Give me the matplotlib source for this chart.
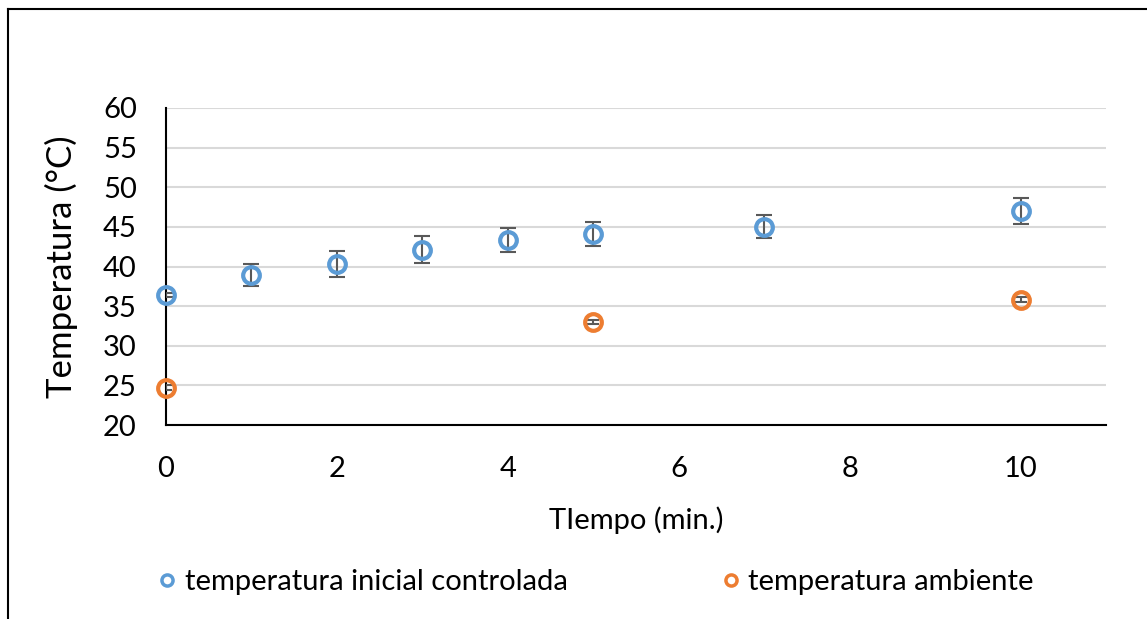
import matplotlib.pyplot as plt
from matplotlib.lines import Line2D

plt.rcParams['font.family'] = ['Lato', 'DejaVu Sans']

# datos
tiempo_ctrl = [0, 1, 2, 3, 4, 5, 7, 10]
temp_ctrl = [36.4, 38.9, 40.3, 42.1, 43.3, 44.1, 45.0, 47.0]
err_ctrl = [0.3, 1.4, 1.6, 1.7, 1.5, 1.5, 1.45, 1.7]

tiempo_amb = [0, 5, 10]
temp_amb = [24.7, 33.0, 35.8]
err_amb = [0.3, 0.3, 0.3]

yticks = [20, 25, 30, 35, 40, 45, 50, 55, 60]
xticks = [0, 2, 4, 6, 8, 10]

azul = '#5b9bd5'
naranja = '#ed7d31'
gris = '#595959'

fig = plt.figure(figsize=(11.47, 6.19), dpi=100)
ax = fig.add_axes([166 / 1147, 1 - 425 / 619, 940 / 1147, 317 / 619])

ax.errorbar(tiempo_ctrl, temp_ctrl, yerr=err_ctrl, fmt='none', ecolor=gris,
            elinewidth=1.5, capsize=6, capthick=1.5, zorder=3)
ax.plot(tiempo_ctrl, temp_ctrl, 'o', ms=12, mfc='none', mec=azul, mew=3,
        zorder=4, clip_on=False)
ax.errorbar(tiempo_amb, temp_amb, yerr=err_amb, fmt='none', ecolor=gris,
            elinewidth=1.5, capsize=4, capthick=1.5, zorder=3)
ax.plot(tiempo_amb, temp_amb, 'o', ms=12, mfc='none', mec=naranja, mew=3,
        zorder=4, clip_on=False)

ax.set_xlim(0, 11)
ax.set_ylim(20, 60)
ax.set_xticks(xticks)
ax.set_yticks(yticks)
ax.grid(axis='y', color='#d9d9d9', lw=1.5)
ax.set_axisbelow(True)
for s in ['top', 'right']:
    ax.spines[s].set_visible(False)
ax.spines['left'].set_linewidth(1.5)
ax.spines['bottom'].set_linewidth(1.5)
ax.tick_params(axis='y', length=0, pad=21, labelsize=21)
ax.tick_params(axis='x', length=0, pad=22, labelsize=21)

ax.set_xlabel('TIempo (min.)', fontsize=21, labelpad=18)
ax.set_ylabel('Temperatura (°C)', fontsize=25, labelpad=18)

h1 = Line2D([], [], marker='o', ls='none', ms=8, mfc='none', mec=azul, mew=2.5)
h2 = Line2D([], [], marker='o', ls='none', ms=8, mfc='none', mec=naranja, mew=2.5)
fig.legend([h1, h2], ['temperatura inicial controlada', 'temperatura ambiente'],
           loc='center', bbox_to_anchor=(596 / 1147, 1 - 582 / 619), ncol=2,
           frameon=False, fontsize=21, handlelength=0.6, handletextpad=0.3,
           columnspacing=5.3)

# marco del gráfico
fig.add_artist(Line2D([8 / 1147, 1], [1 - 9 / 619, 1 - 9 / 619], color='black', lw=1.5))
fig.add_artist(Line2D([8 / 1147, 8 / 1147], [0, 1 - 9 / 619], color='black', lw=1.5))

fig.savefig('out.png', dpi=100)
